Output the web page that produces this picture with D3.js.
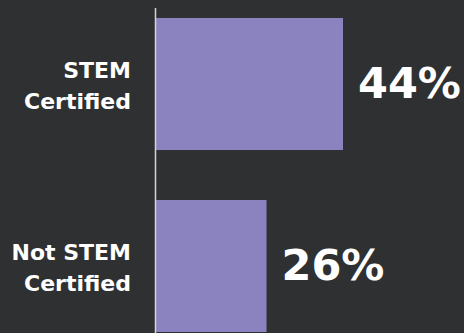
<!DOCTYPE html>
<html><head><meta charset="utf-8">
<script src="https://cdn.jsdelivr.net/npm/d3@7"></script>
<style>
html,body{margin:0;padding:0;background:#2f3032;}
svg{display:block;}
</style></head>
<body>
<svg id="chart" width="464" height="333"></svg>
<script>
const categories = [["STEM","Certified"],["Not STEM","Certified"]];
const categoryKeys = ["STEM Certified","Not STEM Certified"];
const values = [44, 26];
const valueLabels = ["44%","26%"];

const W = 464, H = 333;
const svg = d3.select("#chart");
svg.append("rect").attr("width",W).attr("height",H).attr("fill","#2f3032");

const x = d3.scaleLinear().domain([0,44]).range([156,343]);
const y = d3.scaleBand().domain(categoryKeys).range([18,332]).paddingInner(50/182).paddingOuter(0);

svg.selectAll("rect.bar").data(values).join("rect")
  .attr("class","bar")
  .attr("x", x(0))
  .attr("y",(d,i)=>y(categoryKeys[i]))
  .attr("width",d=>x(d)-x(0))
  .attr("height",y.bandwidth())
  .attr("fill","#8b83bf");

svg.append("line")
  .attr("x1",155.5).attr("x2",155.5)
  .attr("y1",8).attr("y2",H)
  .attr("stroke","#d4d4d4").attr("stroke-width",1.5);

const font = "'DejaVu Sans', sans-serif";

// category labels
categoryKeys.forEach((k,i)=>{
  const cy = y(k) + y.bandwidth()/2;
  const t = svg.append("text")
    .attr("x",131).attr("y",cy)
    .attr("text-anchor","end")
    .attr("fill","#ffffff")
    .attr("font-family",font)
    .attr("font-weight",700)
    .attr("font-size",22);
  categories[i].forEach((line,j)=>{
    t.append("tspan").attr("x",131)
      .attr("y", cy + (j===0 ? -6 : 25))
      .text(line);
  });
});

// value labels
svg.selectAll("text.val").data(values).join("text")
  .attr("class","val")
  .attr("x",d=>x(d)+15)
  .attr("y",(d,i)=>y(categoryKeys[i]) + y.bandwidth()/2 + 14)
  .attr("fill","#ffffff")
  .attr("font-family",font)
  .attr("font-weight",700)
  .attr("font-size",43)
  .text((d,i)=>valueLabels[i]);
</script>
</body></html>
